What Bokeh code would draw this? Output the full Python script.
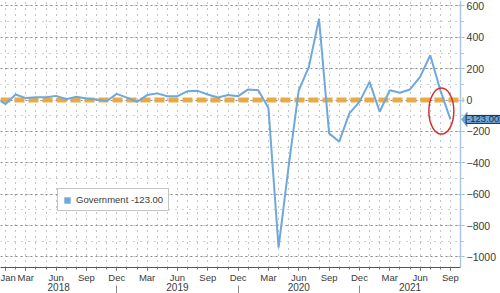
from bokeh.plotting import figure
from bokeh.models import (Range1d, FixedTicker, LinearAxis, Span, Label, Legend,
                          LegendItem, PolyAnnotation, BoxAnnotation)
from bokeh.embed import file_html
from bokeh.resources import INLINE

# ---- data -------------------------------------------------------------
months = [f"{y}-{m:02d}" for y in range(2017, 2022) for m in range(1, 13)]
months = months[months.index("2017-12"):months.index("2021-09") + 1]
government = [16,
              -25, 36, 13, 19, 19, 27, 6, 21, 11, 4, -6, 40,
              16, -11, 32, 43, 25, 25, 57, 59, 36, 17, 32, 25,
              68, 63, -51, -940, -420, 63, 212, 519, -212, -265, -84, -11,
              116, -74, 63, 47, 68, 148, 286, 63, -123]
month_tick_idx = [0, 2, 5, 8, 11, 14, 17, 20, 23, 26, 29, 32, 35, 38, 41, 44]
month_tick_labels = ["Jan", "Mar", "Jun", "Sep", "Dec", "Mar", "Jun", "Sep", "Dec",
                     "Mar", "Jun", "Sep", "Dec", "Mar", "Jun", "Sep"]
years = ["2018", "2019", "2020", "2021"]
y_ticks = list(range(-1000, 601, 200))
y_minor = list(range(-1000, 601, 100))
series_name = "Government"

xs = [i - 1 for i in range(len(months))]     # months from Jan 2018
X0, X_AX, X_END = -0.5, 45.0, 48.95          # left edge, value axis, right edge
Y0, Y1 = -1067, 635

LINE = "#6fa8dc"
FONT = "Liberation Sans"
TXT = "#3a3a3a"

p = figure(width=500, height=293, output_backend="svg", toolbar_location=None,
           x_range=Range1d(X0, X_END), y_range=Range1d(Y0, Y1),
           y_axis_location="right", min_border=0, outline_line_color=None,
           background_fill_color="white", border_fill_color="white")

# grids
p.xgrid.ticker = FixedTicker(ticks=xs)
p.xgrid.grid_line_color = "#8a8a8a"
p.xgrid.grid_line_dash = "1 5"
p.ygrid.grid_line_color = "#8a8a8a"
p.ygrid.grid_line_dash = "2 3"
p.ygrid.minor_grid_line_color = "#a0a0a0"
p.ygrid.minor_grid_line_dash = "1 6"

# zero reference line
p.add_layout(Span(location=0, dimension="width", line_color="#e9a53c",
                  line_width=5, line_dash="10 4", line_alpha=0.95, level="underlay"))
# blank area to the right of the value axis
p.add_layout(BoxAnnotation(left=X_AX + 0.3, fill_color="white", fill_alpha=1,
                           line_color=None, level="underlay"))

# value axis (right), pinned at X_AX
ya = p.yaxis[0]
ya.fixed_location = X_AX
ya.ticker = FixedTicker(ticks=y_ticks, minor_ticks=y_minor)
ya.axis_line_color = "#a9c8e8"
ya.axis_line_width = 1.5
ya.major_tick_line_color = "#8fb8e0"
ya.minor_tick_line_color = "#a9c8e8"
ya.major_tick_in = 2
ya.major_tick_out = 4
ya.minor_tick_in = 0
ya.minor_tick_out = 3
ya.major_label_text_font = FONT
ya.major_label_text_font_size = "10.5px"
ya.major_label_text_color = TXT
ya.major_label_standoff = 2

# month axis
xa = p.xaxis[0]
xa.bounds = (X0, X_AX)
xa.ticker = FixedTicker(ticks=month_tick_idx, minor_ticks=xs)
xa.major_label_overrides = {t: l for t, l in zip(month_tick_idx, month_tick_labels)}
xa.axis_line_color = "#555555"
xa.major_tick_line_color = "#555555"
xa.minor_tick_line_color = "#777777"
xa.major_tick_in = 0
xa.major_tick_out = 3
xa.minor_tick_in = 0
xa.minor_tick_out = 2
xa.major_label_standoff = 1
xa.major_label_text_font = FONT
xa.major_label_text_font_size = "9.5px"
xa.major_label_text_color = TXT

# year axis: separators at each December, labels centred in each visible span
year_starts = [12 * k for k in range(len(years))]
year_seps = [s - 1 for s in year_starts[1:]]
bounds = [X0] + year_seps + [X_AX]
year_mid = [(a + b) / 2 for a, b in zip(bounds[:-1], bounds[1:])]
yax = LinearAxis(ticker=FixedTicker(ticks=year_mid, minor_ticks=year_seps))
yax.major_label_overrides = {m: y for m, y in zip(year_mid, years)}
yax.axis_line_color = None
yax.major_tick_line_color = None
yax.major_tick_out = 0
yax.major_tick_in = 0
yax.minor_tick_in = 0
yax.minor_tick_out = 11
yax.minor_tick_line_color = "#888888"
yax.major_label_standoff = -14
yax.major_label_text_font = FONT
yax.major_label_text_font_size = "10px"
yax.major_label_text_color = TXT
p.add_layout(yax, "below")

# series
p.line(xs, government, line_color=LINE, line_width=2)

# highlight ellipse around the latest reading
ell_x, ell_y = 43.1, -70
p.ellipse(x=[ell_x], y=[ell_y], width=25, height=46, width_units="screen",
          height_units="screen", fill_color=None, line_color="#d6312f", line_width=1.5)

# last value tag on the axis
last = government[-1]
p.add_layout(PolyAnnotation(xs=[X_AX + 0.1, X_AX + 0.65, X_AX + 0.65],
                            ys=[last, last + 46, last - 46],
                            fill_color=LINE, fill_alpha=1,
                            line_color="#1a2a44", line_width=1))
p.add_layout(Label(x=X_AX + 0.55, y=last, text=f"{last:.2f}", text_font=FONT,
                   text_font_size="9.5px", text_color="#1a2a44",
                   text_baseline="middle", text_align="left",
                   background_fill_color=LINE, background_fill_alpha=1,
                   border_line_color="#1a2a44", border_line_width=1, padding=1))

# legend
leg_r = p.rect(x=xs[-1:], y=government[-1:], width=0, height=0,
               fill_color=LINE, line_color=None)
legend = Legend(items=[LegendItem(label=f"{series_name} {last:.2f}", renderers=[leg_r])],
                location=(57, 56), border_line_color="#8a8a8a", border_line_width=1,
                background_fill_color="white", background_fill_alpha=1,
                label_text_font=FONT, label_text_font_size="9.5px", label_text_color=TXT,
                glyph_width=8, glyph_height=8, padding=5, spacing=0, margin=0,
                label_standoff=5, label_height=10)
p.add_layout(legend)

open("out.html", "w").write(file_html(p, INLINE))
